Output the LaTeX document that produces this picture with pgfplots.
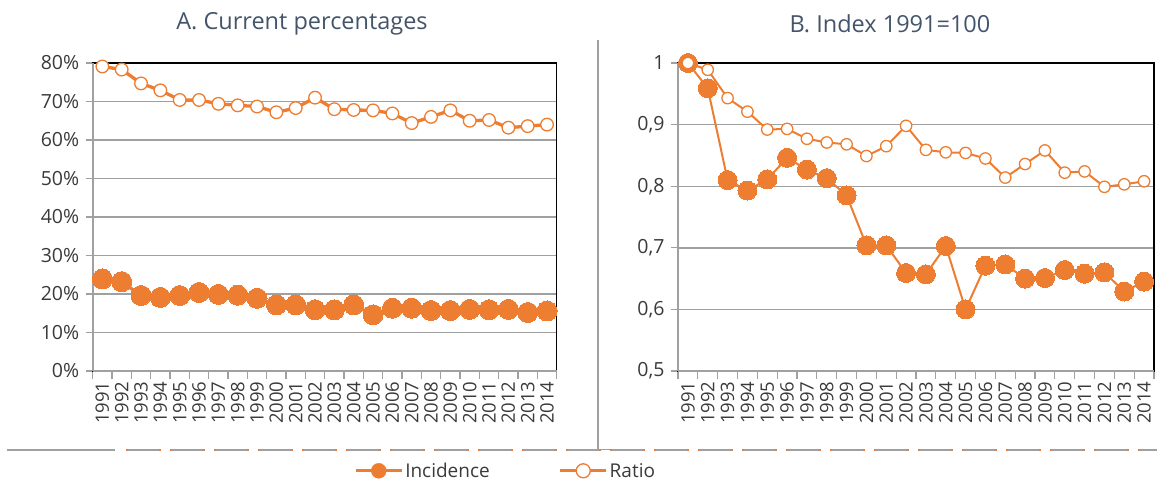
\documentclass[border=0pt]{standalone}
\usepackage{pgfplots}
\usepackage{pgfplotstable}
\pgfplotsset{compat=1.18}
\usepackage{fontspec}
\setmainfont{Open Sans}
\definecolor{org}{HTML}{ED7D31}
\definecolor{grd}{HTML}{A0A0A0}
\definecolor{ttl}{HTML}{44546A}
\definecolor{txt}{HTML}{3A3A3A}

\pgfplotstableread{
i year inc rat incI ratI
0 1991 23.9 79.1 1.000 1.000
1 1992 23.2 78.3 0.959 0.989
2 1993 19.6 74.7 0.810 0.943
3 1994 19.1 72.9 0.793 0.921
4 1995 19.6 70.4 0.811 0.892
5 1996 20.4 70.4 0.846 0.893
6 1997 19.9 69.4 0.827 0.877
7 1998 19.7 69.0 0.813 0.871
8 1999 18.9 68.7 0.785 0.868
9 2000 17.2 67.2 0.704 0.849
10 2001 17.2 68.3 0.704 0.865
11 2002 15.9 71.0 0.659 0.898
12 2003 15.9 68.0 0.657 0.859
13 2004 17.2 67.8 0.703 0.855
14 2005 14.6 67.7 0.600 0.854
15 2006 16.3 66.9 0.671 0.845
16 2007 16.3 64.4 0.673 0.814
17 2008 15.7 66.0 0.650 0.836
18 2009 15.7 67.7 0.651 0.858
19 2010 16.0 65.0 0.664 0.822
20 2011 15.9 65.2 0.658 0.824
21 2012 16.0 63.2 0.660 0.799
22 2013 15.2 63.6 0.629 0.803
23 2014 15.6 64.0 0.645 0.808
}\data

\pgfplotsset{panel/.style={
  scale only axis, height=308pt, clip=false,
  xmin=-0.5, xmax=23.5,
  ymajorgrids, major grid style={grd, line width=1.4pt},
  axis line style={black, line width=1.2pt},
  xtick={0,...,23},
  xticklabels={1991,1992,1993,1994,1995,1996,1997,1998,1999,2000,2001,2002,2003,2004,2005,2006,2007,2008,2009,2010,2011,2012,2013,2014},
  major x tick style={draw=none},
  minor xtick={-0.5,0.5,...,23.5},
  minor x tick style={grd, line width=1.3pt},
  minor tick length=8pt,
  major tick length=7pt,
  y tick style={grd, line width=1.3pt},
  tick align=outside,
  xtick pos=left, ytick pos=left,
  xticklabel style={rotate=90, anchor=east, font=\fontsize{18.5}{18.5}\selectfont, text=txt},
  yticklabel style={font=\fontsize{19.5}{19.5}\selectfont, text=txt, xshift=-3pt},
}}

\begin{document}
\begin{tikzpicture}
\useasboundingbox (0pt,0pt) rectangle (1157pt,483pt);

% Panel A
\begin{axis}[panel, at={(92.7pt,112pt)}, anchor=south west, width=464pt,
  ymin=0, ymax=80, ytick={0,10,...,80},
  yticklabels={0\%,10\%,20\%,30\%,40\%,50\%,60\%,70\%,80\%},
  legend style={at={(axis description cs:0.89,-0.324)}, anchor=center, draw=none, fill=none,
    legend columns=2, font=\fontsize{19}{19}\selectfont, text=txt,
    /tikz/every even column/.append style={column sep=67pt}},
  legend cell align=left]
\draw[grd, line width=2pt] (rel axis cs:0,0) -- (rel axis cs:0,1);
\draw[grd, line width=1.5pt] (rel axis cs:0,0) -- (rel axis cs:1,0);
\addlegendimage{legend image code/.code={\draw[org,line width=3pt](0pt,0pt)--(46pt,0pt); \fill[org](23pt,0pt) circle(7.5pt);}}
\addlegendentry{Incidence}
\addlegendimage{legend image code/.code={\draw[org,line width=3pt](0pt,0pt)--(46pt,0pt); \draw[org,fill=white,line width=1.3pt](23pt,0pt) circle(7pt);}}
\addlegendentry{Ratio}
\addplot[forget plot, org, line width=3.3pt, mark=*, mark size=10pt, mark options={fill=org, draw=org, line width=0pt}] table[x=i,y=inc]{\data};
\addplot[forget plot, org, line width=3.3pt, mark=*, mark size=6.3pt, mark options={fill=white, draw=org, line width=1.3pt}] table[x=i,y=rat]{\data};
\end{axis}

% Panel B
\begin{axis}[panel, at={(678pt,112pt)}, anchor=south west, width=476pt,
  ymin=0.5, ymax=1, ytick={0.5,0.6,0.7,0.8,0.9,1},
  yticklabels={{0,5},{0,6},{0,7},{0,8},{0,9},{1}}]
\draw[grd, line width=2pt] (rel axis cs:0,0) -- (rel axis cs:0,1);
\draw[grd, line width=1.5pt] (rel axis cs:0,0) -- (rel axis cs:1,0);
\addplot[org, line width=2pt, mark=*, mark size=9.5pt, mark options={fill=org, draw=org, line width=0pt}] table[x=i,y=incI]{\data};
\addplot[org, line width=2pt, mark=*, mark size=5.7pt, mark options={fill=white, draw=org, line width=1.3pt}] table[x=i,y=ratI]{\data};
\end{axis}

% Titles
\node[text=ttl, font=\fontsize{23.5}{23.5}\selectfont] at (302pt,459.5pt) {A. Current percentages};
\node[text=ttl, font=\fontsize{23.5}{23.5}\selectfont] at (890pt,459.5pt) {B. Index 1991=100};

% Divider and bottom rule
\draw[grd, line width=1.5pt] (598pt,443pt) -- (598pt,33pt);
\draw[grd, line width=1.5pt] (586pt,33.5pt) -- (610pt,33.5pt);
\draw[grd, line width=1.3pt] (7pt,33pt) -- (115pt,33pt);
\draw[org, line width=1.3pt, dash pattern=on 2pt off 31pt on 2pt off 9pt] (126pt,33pt) -- (1157pt,33pt);
\draw[grd, line width=1.3pt, dash pattern=on 31pt off 13pt] (128pt,33pt) -- (1157pt,33pt);
\end{tikzpicture}
\end{document}
